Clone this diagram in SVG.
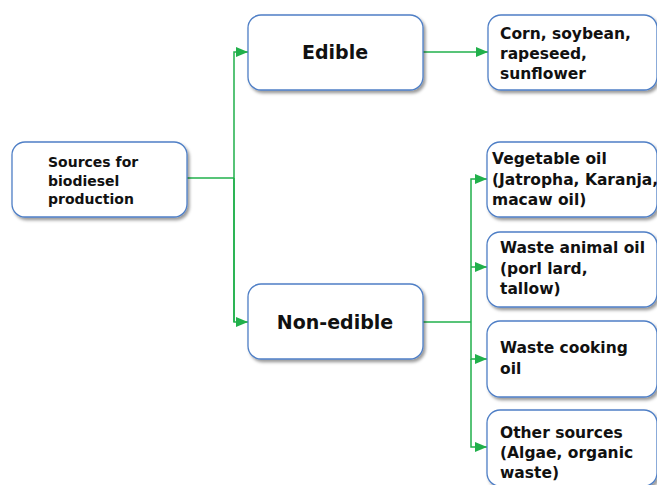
<svg xmlns="http://www.w3.org/2000/svg" width="657" height="485" viewBox="0 0 657 485">
<defs>
<filter id="sh" x="-10%" y="-10%" width="125%" height="130%">
<feDropShadow dx="2" dy="2.5" stdDeviation="1.5" flood-color="#000" flood-opacity="0.4"/>
</filter>
<marker id="ar" viewBox="0 0 12 10" refX="12" refY="5" markerWidth="12" markerHeight="10" markerUnits="userSpaceOnUse" orient="auto">
<path d="M0,0 L12,5 L0,10 Z" fill="#21b04b"/>
</marker>
<style>
.box{fill:#fff;stroke:#4f7fc6;stroke-width:1.3;filter:url(#sh)}
.t{font-family:"DejaVu Sans",Verdana,sans-serif;font-weight:bold;fill:#111}
.s14{font-size:14px}
.s15{font-size:15.5px}
.big{font-size:19px}
.c{fill:none;stroke:#21b04b;stroke-width:1.5}
</style>
</defs>
<g id="connectors">
<path class="c" d="M187,178 H234"/>
<path class="c" d="M234,322 V52 H248" marker-end="url(#ar)"/>
<path class="c" d="M234,178 V322 H248" marker-end="url(#ar)"/>
<path class="c" d="M423,52 H488" marker-end="url(#ar)"/>
<path class="c" d="M423,322 H471"/>
<path class="c" d="M471,322 V179 H487" marker-end="url(#ar)"/>
<path class="c" d="M471,267 H487" marker-end="url(#ar)"/>
<path class="c" d="M471,322 V359 H487" marker-end="url(#ar)"/>
<path class="c" d="M471,359 V447 H487" marker-end="url(#ar)"/>
</g>
<g id="sources">
<rect class="box" x="12" y="142" width="175" height="75" rx="13"/>
<text class="t s14" x="48"><tspan x="48" y="167">Sources for</tspan><tspan x="48" y="186">biodiesel</tspan><tspan x="48" y="204">production</tspan></text>
</g>
<g id="edible">
<rect class="box" x="248" y="15" width="175" height="75" rx="13"/>
<text class="t big" x="335" y="59" text-anchor="middle">Edible</text>
</g>
<g id="nonedible">
<rect class="box" x="248" y="284" width="175" height="75" rx="13"/>
<text class="t big" x="335" y="329" text-anchor="middle">Non-edible</text>
</g>
<g id="corn">
<rect class="box" x="488" y="15" width="169" height="75" rx="13"/>
<text class="t s15"><tspan x="500" y="39">Corn, soybean,</tspan><tspan x="500" y="59">rapeseed,</tspan><tspan x="500" y="79">sunflower</tspan></text>
</g>
<g id="vegetable">
<rect class="box" x="487" y="142" width="170" height="75" rx="13"/>
<text class="t s15"><tspan x="492" y="164">Vegetable oil</tspan><tspan x="492" y="185">(Jatropha, Karanja,</tspan><tspan x="492" y="205">macaw oil)</tspan></text>
</g>
<g id="animal">
<rect class="box" x="487" y="232" width="170" height="75" rx="13"/>
<text class="t s15"><tspan x="500" y="253">Waste animal oil</tspan><tspan x="500" y="274">(porl lard,</tspan><tspan x="500" y="294">tallow)</tspan></text>
</g>
<g id="cooking">
<rect class="box" x="487" y="321" width="170" height="76" rx="13"/>
<text class="t s15"><tspan x="500" y="353">Waste cooking</tspan><tspan x="500" y="374">oil</tspan></text>
</g>
<g id="other">
<rect class="box" x="487" y="410" width="170" height="76" rx="13"/>
<text class="t s15"><tspan x="500" y="438">Other sources</tspan><tspan x="500" y="458">(Algae, organic</tspan><tspan x="500" y="478">waste)</tspan></text>
</g>
</svg>
